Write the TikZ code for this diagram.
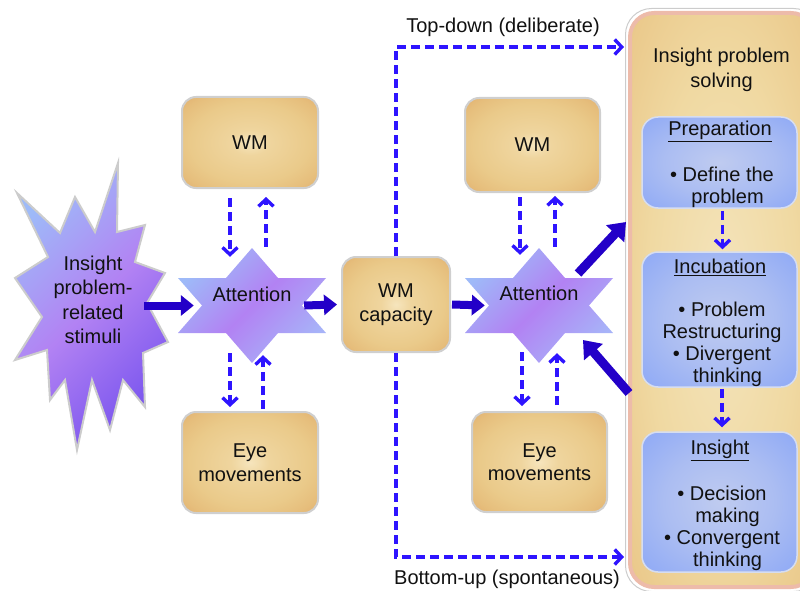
\documentclass[tikz,border=0pt]{standalone}
\usepackage{fontspec}
\setmainfont{Liberation Sans}
\usetikzlibrary{arrows.meta,calc}
\definecolor{txt}{HTML}{111111}
\definecolor{boxA}{HTML}{F6E5BD}
\definecolor{boxB}{HTML}{EFD59E}
\definecolor{boxC}{HTML}{EACA8A}
\definecolor{boxD}{HTML}{E6BE7C}
\definecolor{boxE}{HTML}{E0AA6A}
\definecolor{boxF}{HTML}{DA9C5E}
\definecolor{boxline}{HTML}{CFCFCF}
\definecolor{bluA}{HTML}{BFCBF0}
\definecolor{bluB}{HTML}{ABBDF2}
\definecolor{bluC}{HTML}{94ADF5}
\definecolor{bluD}{HTML}{88A4F6}
\definecolor{bluline}{HTML}{D6DDF0}
\definecolor{panA}{HTML}{F4E4BC}
\definecolor{panB}{HTML}{F0D9A2}
\definecolor{panC}{HTML}{EBCB8E}
\definecolor{panD}{HTML}{E4B676}
\definecolor{panline}{HTML}{EDBBAA}
\definecolor{starA}{HTML}{9EBAF8}
\definecolor{starB}{HTML}{B282F3}
\definecolor{starC}{HTML}{A7B3F8}
\definecolor{burstC}{HTML}{7A55EE}
\definecolor{burstline}{HTML}{CCCCCC}
\definecolor{thickblue}{HTML}{2300C8}
\definecolor{dashblue}{HTML}{2E14FF}
\pgfdeclareradialshading{boxsh}{\pgfpoint{0bp}{0bp}}{color(0bp)=(boxA); color(7bp)=(boxB); color(22bp)=(boxC); color(30bp)=(boxD); color(38bp)=(boxE); color(50bp)=(boxF)}
\pgfdeclareradialshading{blush}{\pgfpoint{0bp}{0bp}}{color(0bp)=(bluA); color(18bp)=(bluB); color(32bp)=(bluC); color(50bp)=(bluD)}
\pgfdeclareradialshading{pansh}{\pgfpoint{0bp}{0bp}}{color(0bp)=(panA); color(20bp)=(panB); color(32bp)=(panC); color(50bp)=(panD)}
\begin{document}
\begin{tikzpicture}[x=1pt,y=-1pt,
  every node/.style={text=txt, font=\fontsize{20}{23.5}\selectfont, inner sep=0pt, align=center},
  obox/.style={draw=boxline, line width=2pt, rounded corners=14pt, shade, shading=boxsh},
  bbox/.style={draw=bluline, line width=1.5pt, rounded corners=16pt, shade, shading=blush},
  hexnode/.style={minimum width=148pt, minimum height=115pt},
  hexfill/.style={top color=starA, bottom color=starC, middle color=starB, shading angle=45},
  bigarr/.style={draw=thickblue, line width=8pt, -{Triangle[width=20pt,length=13pt]}},
  bigdiag/.style={draw=thickblue, line width=9pt, -{Triangle[width=24pt,length=16pt]}},
  dasharr/.style={draw=dashblue, line width=3.4pt, dash pattern=on 9pt off 5pt, -{Straight Barb[length=7pt,width=15pt]}}
]
\useasboundingbox (0,0) rectangle (800,591);
\clip (0,0) rectangle (800,591);

% right panel
\node[draw=panline, line width=4pt, rounded corners=24pt, shade, shading=pansh,
      minimum width=185pt, minimum height=574pt] (panel) at (722.5,300) {};
\draw[burstline, line width=1pt, rounded corners=26pt]
  ($(panel.south west)+(-2.5,2.5)$) rectangle ($(panel.north east)+(2.5,-2.5)$);
\node[font=\fontsize{20}{25}\selectfont] (ptitle) at (721.5,69.5) {Insight problem\\solving};

\node[bbox, minimum width=155pt, minimum height=91pt] (prep) at (719.5,162.5) {};
\node[bbox, minimum width=155pt, minimum height=135pt] (inc) at (719.5,319.5) {};
\node[bbox, minimum width=155pt, minimum height=140pt] (ins) at (719.5,502) {};
\node (prepT) at (720,131) {\underline{Preparation}};
\node[font=\fontsize{20}{22}\selectfont] (prepB) at (722,187) {\textbullet\ Define the\\\ \ problem};
\node (incT) at (720,267) {\underline{Incubation}};
\node[font=\fontsize{20}{22}\selectfont] (incB) at (722,344) {\textbullet\ Problem\\Restructuring\\\textbullet\ Divergent\\\ \ thinking};
\node (insT) at (720,450) {\underline{Insight}};
\node[font=\fontsize{20}{22}\selectfont] (insB) at (722,528) {\textbullet\ Decision\\\ \ making\\\textbullet\ Convergent\\\ \ thinking};
\draw[dasharr] ($(prep.south)+(3,2)$) -- ($(inc.north)+(3,-2)$);
\draw[dasharr] ($(inc.south)+(2.5,1)$) -- ($(ins.north)+(2.5,-4)$);

% starburst
\path[draw=burstline, line width=2pt, top color=starA, bottom color=burstC, middle color=starB, shading angle=45]
  (118,163) -- (117,232) -- (145,225) -- (135,262) -- (165,273) -- (147,303) -- (168,342) -- (143,353)
  -- (145,407) -- (123,380) -- (110,430) -- (92,380) -- (77,450) -- (65,380) -- (50,400) -- (47,350)
  -- (15,360) -- (42,317) -- (15,278) -- (48,257) -- (17,193) -- (60,233) -- (75,197) -- (95,232) -- cycle;
\node[font=\fontsize{20}{24.5}\selectfont] (stim) at (93,300) {Insight\\problem-\\related\\stimuli};
\coordinate (burstR) at (144,305.5);

% hexagrams
\node[hexnode] (att1) at (252,305.5) {};
\node[hexnode] (att2) at (539,305.5) {};
\foreach \h in {att1,att2}{
  \begin{scope}[shift={(\h.center)}]
    \path[hexfill] (0,-57.5) -- (26,-27.5) -- (74,-27.5) -- (50,0) -- (74,27.5) -- (26,27.5)
      -- (0,57.5) -- (-26,27.5) -- (-74,27.5) -- (-50,0) -- (-74,-27.5) -- (-26,-27.5) -- cycle;
  \end{scope}
}
\node (att1t) at (252,294) {Attention};
\node (att2t) at (539,293) {Attention};

% boxes
\node[obox, minimum width=136pt, minimum height=91pt] (wm1) at (250,142.5) {WM};
\node[obox, minimum width=136pt, minimum height=101pt] (eye1) at (250,462.5) {Eye\\movements};
\node[obox, minimum width=108pt, minimum height=95pt] (wmcap) at (396,304.5) {WM\\capacity};
\node[obox, minimum width=135pt, minimum height=94pt] (wm2) at (532.5,145) {WM};
\node[obox, minimum width=135pt, minimum height=100pt] (eye2) at (539.5,462) {Eye\\movements};

% thick arrows
\draw[bigarr] (burstR) -- ([xshift=16pt]att1.west);
\draw[bigarr] ([xshift=-22pt]att1.east) -- ([xshift=-4pt]wmcap.west);
\draw[bigarr] ([xshift=1pt]wmcap.east) -- ([xshift=20pt]att2.west);
\draw[bigdiag] ($(att2.center)+(39,-32)$) -- ($(panel.west)+(-2,-78)$);
\draw[bigdiag] ($(panel.west)+(1,93)$) -- ($(att2.center)+(44,34.5)$);

% dashed arrows around attention
\draw[dasharr] ($(wm1.south)+(-20,9)$) -- ($(att1.north)+(-22,9)$);
\draw[dasharr] ($(att1.north)+(14,-1)$) -- ($(wm1.south)+(16,8)$);
\draw[dasharr] ($(att1.south)+(-22,-10)$) -- ($(eye1.north)+(-20,-4)$);
\draw[dasharr] ($(eye1.north)+(13,-2)$) -- ($(att1.south)+(11,-8)$);
\draw[dasharr] ($(wm2.south)+(-12.5,4)$) -- ($(att2.north)+(-19,7)$);
\draw[dasharr] ($(att2.north)+(16,-1)$) -- ($(wm2.south)+(22.5,3)$);
\draw[dasharr] ($(att2.south)+(-17,-11)$) -- ($(eye2.north)+(-17.5,-5)$);
\draw[dasharr] ($(eye2.north)+(17.5,-6)$) -- ($(att2.south)+(18,-10)$);

% top-down / bottom-up
\coordinate (tdEnd) at (624,47);
\coordinate (buEnd) at (624,557);
\draw[dasharr] (wmcap.north) |- (tdEnd);
\draw[dasharr] (wmcap.south) |- (buEnd);
\node (td) at (503,27) {Top-down (deliberate)};
\node (bu) at (507,579) {Bottom-up (spontaneous)};
\end{tikzpicture}
\end{document}
